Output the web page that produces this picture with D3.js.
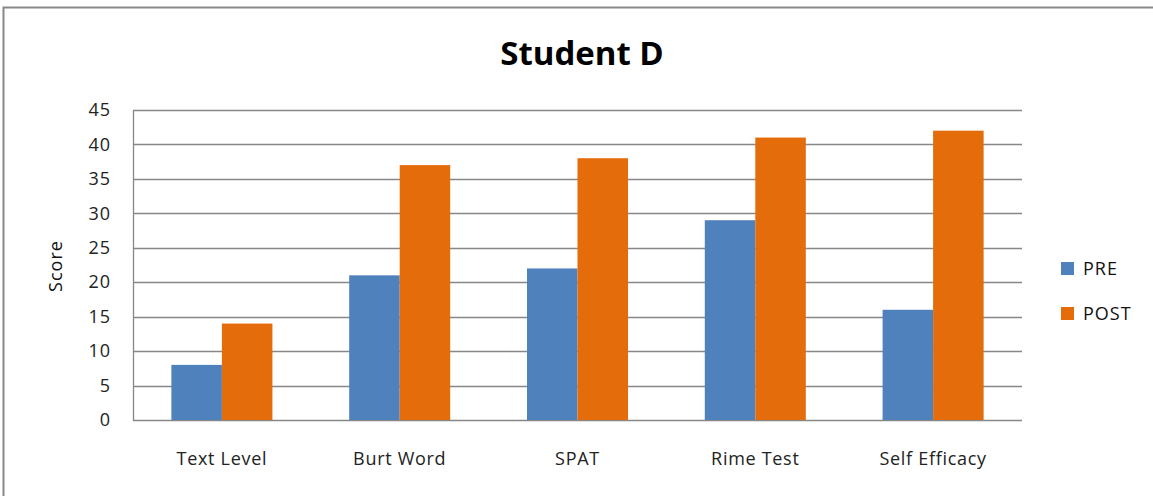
<!DOCTYPE html>
<html>
<head>
<meta charset="utf-8">
<script src="https://cdnjs.cloudflare.com/ajax/libs/d3/7.8.5/d3.min.js"></script>
<style>
  html, body { margin: 0; padding: 0; background: #fff; }
  svg { display: block; font-family: "Open Sans", Lato, sans-serif; }
</style>
</head>
<body>
<svg id="chart" width="1153" height="496"></svg>
<script>
const categories = ["Text Level", "Burt Word", "SPAT", "Rime Test", "Self Efficacy"];
const seriesNames = ["PRE", "POST"];
const preValues = [8, 21, 22, 29, 16];
const postValues = [14, 37, 38, 41, 42];
const yTicks = [0, 5, 10, 15, 20, 25, 30, 35, 40, 45];
const colors = ["#4f81bd", "#e46c0a"];

const svg = d3.select("#chart");
const W = 1153, H = 496;
const plot = { left: 133, right: 1022, top: 110, bottom: 420 };
const labelFont = "'Open Sans', sans-serif";

// outer frame
svg.append("rect")
  .attr("x", 3.5).attr("y", 7.5)
  .attr("width", W + 10).attr("height", H + 10)
  .attr("fill", "#fff").attr("stroke", "#888").attr("stroke-width", 2);

const x0 = d3.scaleBand().domain(categories).range([plot.left, plot.right]).padding(0);
const x1 = d3.scaleBand().domain(seriesNames).range([0, x0.bandwidth()]).paddingInner(0).paddingOuter(0.76);
const y = d3.scaleLinear().domain([0, 45]).range([plot.bottom, plot.top]);

// gridlines
svg.append("g").selectAll("line").data(yTicks).join("line")
  .attr("x1", plot.left).attr("x2", plot.right)
  .attr("y1", d => Math.round(y(d)) + 0.5).attr("y2", d => Math.round(y(d)) + 0.5)
  .attr("stroke", "#878787").attr("stroke-width", 1.3);

// y axis
const yAxis = svg.append("g")
  .attr("transform", `translate(${plot.left},0)`)
  .call(d3.axisLeft(y).tickValues(yTicks).tickSize(0).tickPadding(22));
yAxis.select(".domain").attr("stroke", "#878787").attr("stroke-width", 1.3);
yAxis.selectAll("text")
  .attr("font-size", 18).attr("fill", "#222").attr("font-family", labelFont)
  .attr("letter-spacing", 1);

// bars
const data = categories.map((c, i) => ({ cat: c, vals: [preValues[i], postValues[i]] }));
const groups = svg.append("g").selectAll("g").data(data).join("g")
  .attr("transform", d => `translate(${x0(d.cat)},0)`);
groups.selectAll("rect").data(d => d.vals.map((v, j) => ({ s: seriesNames[j], v, j })))
  .join("rect")
  .attr("x", d => x1(d.s))
  .attr("width", x1.bandwidth())
  .attr("y", d => y(d.v))
  .attr("height", d => y(0) - y(d.v))
  .attr("fill", d => colors[d.j]);

// x axis labels
const xAxis = svg.append("g")
  .attr("transform", `translate(0,${plot.bottom})`)
  .call(d3.axisBottom(x0).tickSize(0));
xAxis.select(".domain").remove();
xAxis.selectAll("text")
  .attr("y", 45).attr("dy", 0)
  .attr("font-size", 18).attr("fill", "#222").attr("font-family", labelFont)
  .attr("letter-spacing", 0.7);

// y axis title
svg.append("text")
  .attr("transform", `translate(62,${(plot.top + plot.bottom) / 2 + 1}) rotate(-90)`)
  .attr("text-anchor", "middle")
  .attr("font-size", 18).attr("fill", "#111").attr("letter-spacing", 1)
  .text("Score");

// chart title
svg.append("text")
  .attr("x", 582).attr("y", 65)
  .attr("text-anchor", "middle")
  .attr("font-size", 33).attr("font-weight", "bold").attr("fill", "#000")
  .text("Student D");

// legend
const legend = svg.append("g").selectAll("g").data(seriesNames).join("g")
  .attr("transform", (d, i) => `translate(1061,${262 + i * 45})`);
legend.append("rect").attr("width", 13).attr("height", 13).attr("fill", (d, i) => colors[i]);
legend.append("text").attr("x", 22).attr("y", 13)
  .attr("font-size", 18).attr("fill", "#111").attr("letter-spacing", 1)
  .text(d => d);
</script>
</body>
</html>
